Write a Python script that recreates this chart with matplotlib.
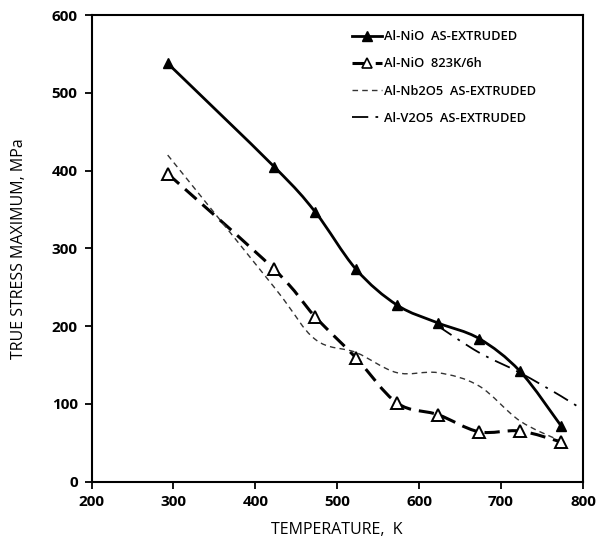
import numpy as np
import matplotlib
matplotlib.use('Agg')
import matplotlib.pyplot as plt
from matplotlib.path import Path
from matplotlib.patches import PathPatch
from matplotlib.lines import Line2D

plt.rcParams['font.family'] = ['Open Sans', 'DejaVu Sans']

# Values
temp_nio = [293, 423, 473, 523, 573, 623, 673, 723, 773]
nio_extruded = [538, 405, 347, 273, 227, 204, 184, 142, 72]
nio_annealed = [396, 273, 212, 159, 101, 86, 64, 65, 51]

temp_nb = [293, 423, 473, 523, 573, 623, 673, 723, 773]
nb2o5_extruded = [420, 250, 183, 166, 140, 140, 123, 78, 52]

temp_v = [623, 673, 723, 773, 800]
v2o5_extruded = [200, 166, 140, 110, 92]

labels = ['Al-NiO  AS-EXTRUDED', 'Al-NiO  823K/6h',
          'Al-Nb2O5  AS-EXTRUDED', 'Al-V2O5  AS-EXTRUDED']


def smooth_path(x, y):
    # Excel-like smoothed line: cubic Bezier through every point
    p = np.column_stack([x, y]).astype(float)
    ext = np.vstack([p[0], p, p[-1]])
    verts = [p[0]]
    codes = [Path.MOVETO]
    for i in range(len(p) - 1):
        c1 = ext[i + 1] + (ext[i + 2] - ext[i]) / 6.0
        c2 = ext[i + 2] - (ext[i + 3] - ext[i + 1]) / 6.0
        verts += [c1, c2, ext[i + 2]]
        codes += [Path.CURVE4] * 3
    return Path(verts, codes)


fig = plt.figure(figsize=(5.97, 5.42), dpi=100)
ax = fig.add_axes([0.1533, 0.1116, 0.8232, 0.8604])

styles = [
    dict(color='black', lw=2.0, ls='-'),
    dict(color='black', lw=2.2, ls=(0, (5, 2.6))),
    dict(color='#333333', lw=1.0, ls=(0, (4, 3))),
    dict(color='black', lw=1.3, ls=(0, (9, 4, 1.5, 4))),
]
series = [(temp_nio, nio_extruded), (temp_nio, nio_annealed),
          (temp_nb, nb2o5_extruded), (temp_v, v2o5_extruded)]

for (x, y), st in zip(series, styles):
    patch = PathPatch(smooth_path(x, y), facecolor='none', edgecolor=st['color'],
                      linewidth=st['lw'], linestyle=st['ls'], capstyle='butt')
    ax.add_patch(patch)

ax.plot(temp_nio, nio_extruded, linestyle='none', marker='^', markersize=7.5,
        color='black', zorder=3)
ax.plot(temp_nio, nio_annealed, linestyle='none', marker='^', markersize=8,
        markerfacecolor='white', markeredgecolor='black', markeredgewidth=1.4, zorder=3)

handles = [
    Line2D([], [], color='black', lw=2.0, marker='^', markersize=7.5),
    Line2D([], [], color='black', lw=2.2, ls=(0, (5, 2.6)), marker='^', markersize=7,
           markerfacecolor='white', markeredgewidth=1.2),
    Line2D([], [], color='#333333', lw=1.0, ls=(0, (4, 3))),
    Line2D([], [], color='black', lw=1.3, ls=(0, (9, 4, 1.5, 4))),
]
ax.legend(handles, labels, loc='upper left', bbox_to_anchor=(0.53, 0.968),
          frameon=False, borderpad=0, borderaxespad=0,
          handlelength=2.3, handletextpad=0.15, labelspacing=1.1,
          prop=dict(size=9.3, weight='semibold'))

ax.set_xlim(200, 800)
ax.set_ylim(0, 600)
ax.set_xticks(range(200, 801, 100))
ax.set_yticks(range(0, 601, 100))
ax.tick_params(direction='out', length=5, width=1.3, labelsize=11, pad=5)
for lab in ax.get_xticklabels() + ax.get_yticklabels():
    lab.set_fontweight('bold')
for sp in ax.spines.values():
    sp.set_linewidth(1.5)

ax.set_xlabel('TEMPERATURE,  K', fontsize=11.5, labelpad=9)
ax.set_ylabel('TRUE STRESS MAXIMUM, MPa', fontsize=11.5, labelpad=18)

fig.savefig('out.png', dpi=100)
